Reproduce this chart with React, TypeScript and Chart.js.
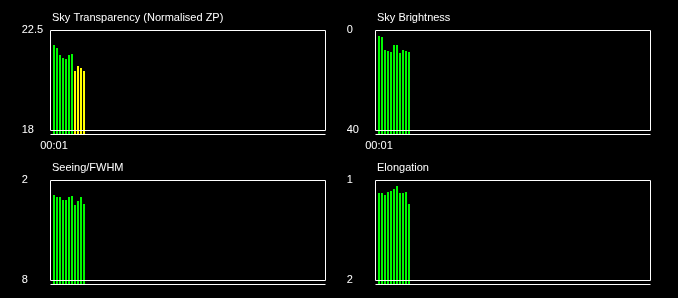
import React, { useEffect, useRef } from 'react';
import { Chart, registerables } from 'chart.js';

Chart.register(...registerables);

// 92 time slots across the night; only the first sampled slot is labelled
const slotLabels: string[] = [
  '', '00:01', '', '', '', '', '', '', '', '', '', '', '', '', '', '', '', '', '', '', '', '', '', '',
  '', '', '', '', '', '', '', '', '', '', '', '', '', '', '', '', '', '', '', '', '', '', '', '',
  '', '', '', '', '', '', '', '', '', '', '', '', '', '', '', '', '', '', '', '', '', '', '', '',
  '', '', '', '', '', '', '', '', '', '', '', '', '', '', '', '', '', '', '', '',
];
const firstSlot = 1;

const transparencyValues = [21.84, 21.7, 21.39, 21.25, 21.21, 21.39, 21.43, 20.67, 20.89, 20.8, 20.67];
const transparencyAxis = [22.5, 18]; // [top, bottom]
const transparencyWarn = 21; // below this the bar turns yellow

const brightnessValues = [2.3, 2.7, 7.9, 8.3, 8.7, 5.9, 5.9, 9.1, 7.9, 8.3, 8.7];
const brightnessAxis = [0, 40];

const seeingValues = [2.88, 3.0, 3.0, 3.18, 3.18, 3.0, 2.94, 3.48, 3.24, 3.0, 3.42];
const seeingAxis = [2, 8];

const elongationValues = [1.127, 1.127, 1.147, 1.117, 1.107, 1.087, 1.057, 1.127, 1.127, 1.117, 1.237];
const elongationAxis = [1, 2];

const GREEN = '#00f800';
const YELLOW = '#ffff00';
const FONT_FAMILY = '"Liberation Sans", Arial, Helvetica, sans-serif';

type PanelProps = {
  title: string;
  values: number[];
  axis: number[];
  showTime: boolean;
  warnBelow?: number;
  left: number;
  top: number;
  width: number;
};

function Panel({ title, values, axis, showTime, warnBelow, left, top, width }: PanelProps) {
  const ref = useRef<HTMLCanvasElement>(null);
  useEffect(() => {
    if (!ref.current) return;
    const [axisTop, axisBottom] = axis;
    const reverse = axisTop < axisBottom;
    const min = Math.min(axisTop, axisBottom);
    const max = Math.max(axisTop, axisBottom);
    const span = axisBottom - axisTop;
    const lineValue = axisBottom + span * 0.04;
    const barBase = axisBottom + span * 0.05;
    const data = slotLabels.map((_, i) =>
      i >= firstSlot && i < firstSlot + values.length ? values[i - firstSlot] : null
    );
    const colors = slotLabels.map((_, i) => {
      const v = data[i];
      if (v == null) return GREEN;
      return warnBelow != null && v < warnBelow ? YELLOW : GREEN;
    });
    const font = { family: FONT_FAMILY, size: 11 };

    const framePlugin = {
      id: 'frame',
      afterDatasetsDraw(chart: any) {
        const { ctx, chartArea } = chart;
        const ys = chart.scales.y;
        const l = Math.round(chartArea.left) + 0.5;
        const r = Math.round(chartArea.right) - 0.5;
        const t = Math.round(chartArea.top) + 0.5;
        const b = Math.round(chartArea.bottom) + 0.5;
        const bp = Math.round(ys.getPixelForValue(lineValue)) + 0.5;
        ctx.save();
        ctx.strokeStyle = '#ffffff';
        ctx.lineWidth = 1;
        ctx.beginPath();
        ctx.rect(l, t, r - l, b - t);
        ctx.moveTo(l, bp);
        ctx.lineTo(r, bp);
        ctx.stroke();
        ctx.fillStyle = '#ffffff';
        ctx.font = `11px ${FONT_FAMILY}`;
        ctx.textBaseline = 'alphabetic';
        ctx.textAlign = 'left';
        ctx.fillText(title, l + 1.5, 21);
        ctx.restore();
      },
    };

    const chart = new Chart(ref.current, {
      type: 'bar',
      data: {
        labels: slotLabels,
        datasets: [
          {
            data,
            backgroundColor: colors,
            base: barBase,
            clip: false,
            barThickness: 2,
            borderWidth: 0,
            inflateAmount: 0,
          } as any,
        ],
      },
      options: {
        responsive: false,
        animation: false,
        events: [],
        layout: { padding: { left: 21.75, top: 30, right: width - 325.75, bottom: 0 } },
        plugins: {
          legend: { display: false },
          tooltip: { enabled: false },
          title: { display: false },
        },
        scales: {
          x: {
            type: 'category',
            offset: true,
            alignToPixels: true,
            grid: { display: false, drawTicks: false },
            border: { display: false },
            ticks: {
              display: showTime,
              autoSkip: false,
              maxRotation: 0,
              minRotation: 0,
              color: '#ffffff',
              font,
              padding: 9,
            },
            afterFit: (s: any) => {
              s.height = 20;
              s.paddingLeft = 0;
              s.paddingRight = 0;
            },
          },
          y: {
            type: 'linear',
            min,
            max,
            reverse,
            alignToPixels: true,
            grid: { display: false, drawTicks: false },
            border: { display: false },
            ticks: {
              crossAlign: 'far',
              color: '#ffffff',
              font,
              callback: (v: any) => String(v),
            },
            afterBuildTicks: (s: any) => {
              s.ticks = [{ value: min }, { value: max }];
            },
            afterFit: (s: any) => {
              s.width = 28;
              s.paddingTop = 0;
              s.paddingBottom = 0;
            },
          },
        },
      } as any,
      plugins: [framePlugin],
    });
    return () => chart.destroy();
  }, []);
  return (
    <canvas
      ref={ref}
      width={width}
      height={150}
      style={{ position: 'absolute', left, top, width, height: 150 }}
    />
  );
}

export default function App() {
  return (
    <div
      style={{
        position: 'fixed',
        left: 0,
        top: 0,
        width: 678,
        height: 298,
        background: '#000000',
        overflow: 'hidden',
      }}
    >
      <Panel
        title="Sky Transparency (Normalised ZP)"
        values={transparencyValues}
        axis={transparencyAxis}
        warnBelow={transparencyWarn}
        showTime={true}
        left={0}
        top={0}
        width={330}
      />
      <Panel
        title="Sky Brightness"
        values={brightnessValues}
        axis={brightnessAxis}
        showTime={true}
        left={325}
        top={0}
        width={353}
      />
      <Panel
        title="Seeing/FWHM"
        values={seeingValues}
        axis={seeingAxis}
        showTime={false}
        left={0}
        top={150}
        width={330}
      />
      <Panel
        title="Elongation"
        values={elongationValues}
        axis={elongationAxis}
        showTime={false}
        left={325}
        top={150}
        width={353}
      />
    </div>
  );
}
